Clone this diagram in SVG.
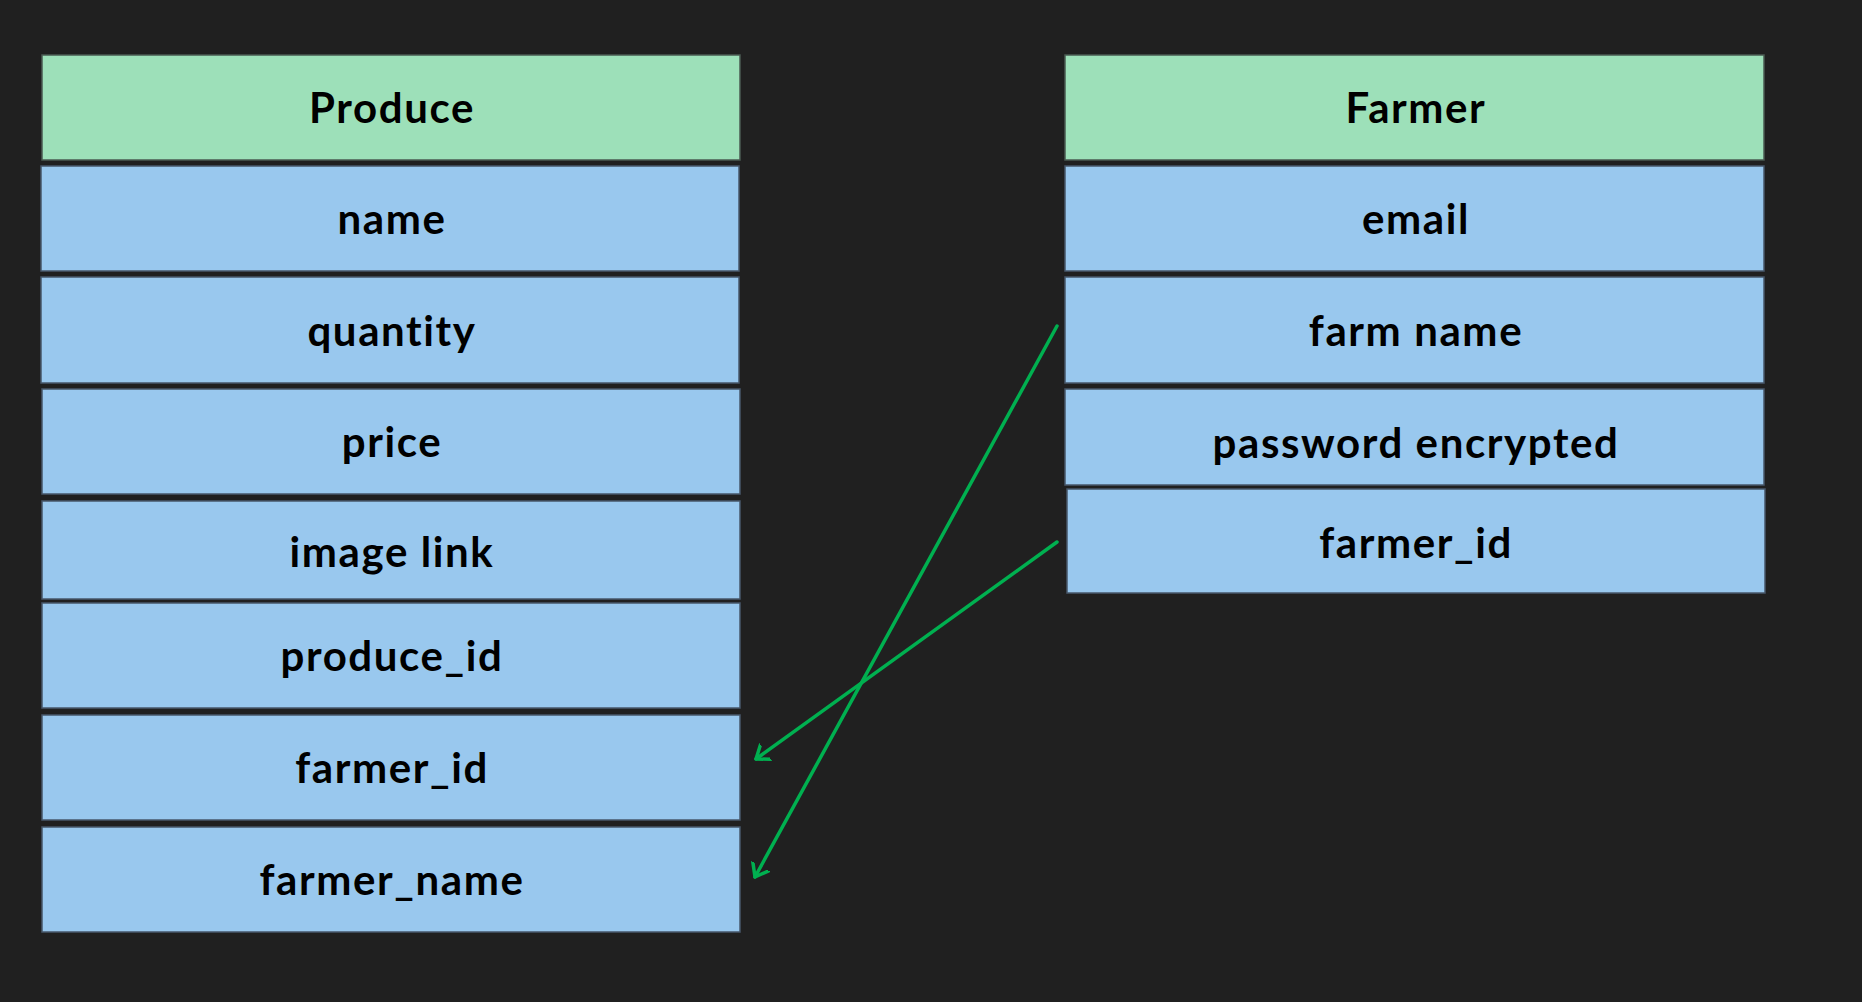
<svg xmlns="http://www.w3.org/2000/svg" width="1862" height="1002" viewBox="0 0 1862 1002">
<style>
.hd{fill:#9de0b9;stroke:#4a5a52;stroke-width:1.5}
.rw{fill:#99c8ee;stroke:#47576a;stroke-width:1.5}
text{font-family:Lato,"Open Sans","Liberation Sans",sans-serif;font-weight:bold;font-size:42px;letter-spacing:1.6px;fill:#000;text-anchor:middle}
.cn{fill:none;stroke:#00b050;stroke-width:3.5;stroke-linecap:round}
</style>
<defs>
<marker id="ah" markerWidth="24" markerHeight="24" refX="12" refY="12" orient="auto" markerUnits="userSpaceOnUse">
<path d="M0,3 L12,12 L0,21" fill="none" stroke="#00b050" stroke-width="3.5" stroke-linecap="round" stroke-linejoin="round"/>
</marker>
</defs>
<rect width="1862" height="1002" fill="#202020"/>
<g id="produce">
<g id="produce-header"><rect class="hd" x="42" y="55" width="698" height="105"/><text x="392" y="123">Produce</text></g>
<g id="produce-name"><rect class="rw" x="41" y="166" width="698" height="105"/><text x="392" y="234">name</text></g>
<g id="produce-quantity"><rect class="rw" x="41" y="277" width="698" height="106"/><text x="392" y="346">quantity</text></g>
<g id="produce-price"><rect class="rw" x="42" y="389" width="698" height="105"/><text x="392" y="457">price</text></g>
<g id="produce-image-link"><rect class="rw" x="42" y="501" width="698" height="98"/><text x="392" y="567">image link</text></g>
<g id="produce-produce-id"><rect class="rw" x="42" y="603" width="698" height="105"/><text x="392" y="671">produce_id</text></g>
<g id="produce-farmer-id"><rect class="rw" x="42" y="715" width="698" height="105"/><text x="392" y="783">farmer_id</text></g>
<g id="produce-farmer-name"><rect class="rw" x="42" y="827" width="698" height="105"/><text x="392" y="895">farmer_name</text></g>
</g>
<g id="farmer">
<g id="farmer-header"><rect class="hd" x="1065" y="55" width="699" height="105"/><text x="1416" y="123">Farmer</text></g>
<g id="farmer-email"><rect class="rw" x="1065" y="166" width="699" height="105"/><text x="1416" y="234">email</text></g>
<g id="farmer-farm-name"><rect class="rw" x="1065" y="277" width="699" height="106"/><text x="1416" y="346">farm name</text></g>
<g id="farmer-password"><rect class="rw" x="1065" y="389" width="699" height="96"/><text x="1416" y="458">password encrypted</text></g>
<g id="farmer-farmer-id"><rect class="rw" x="1067" y="489" width="698" height="104"/><text x="1416" y="558">farmer_id</text></g>
</g>
<g id="connectors">
<line class="cn" x1="1057" y1="326" x2="755" y2="877" marker-end="url(#ah)"/>
<line class="cn" x1="1057" y1="542" x2="756" y2="759" marker-end="url(#ah)"/>
</g>
</svg>
